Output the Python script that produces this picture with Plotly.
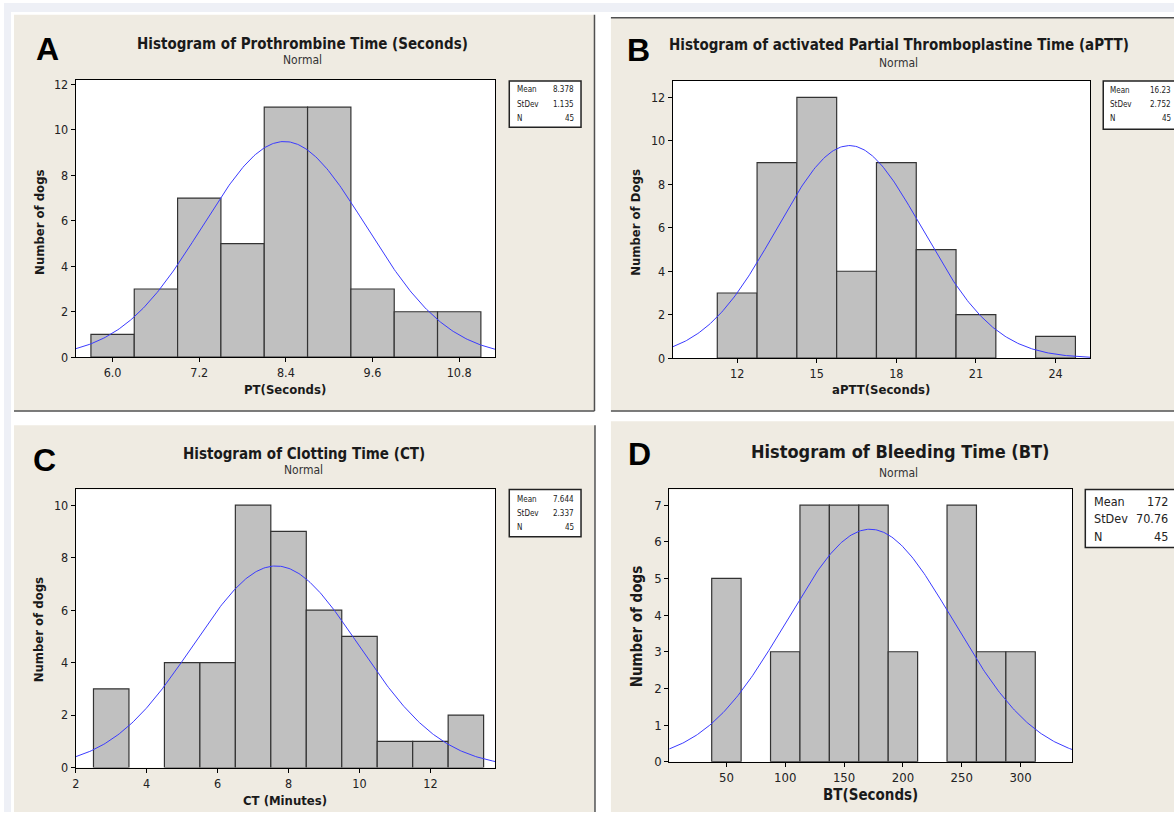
import numpy as np
import plotly.graph_objects as go

W, H = 1174, 820
FONT = "DejaVu Sans Condensed, Liberation Sans, Arial, sans-serif"
LETTER_FONT = "Liberation Sans, Arial, sans-serif"

# ---------------- data ----------------
pt_centers = [6.0, 6.6, 7.2, 7.8, 8.4, 9.0, 9.6, 10.2, 10.8]
pt_counts = [1, 3, 7, 5, 11, 11, 3, 2, 2]
pt_stats = {"mean": 8.378, "stdev": 1.135, "n": 45}
pt_stat_text = ["8.378", "1.135", "45"]
pt_xticks = [6.0, 7.2, 8.4, 9.6, 10.8]
pt_xticklabels = ["6.0", "7.2", "8.4", "9.6", "10.8"]

aptt_centers = [12, 13.5, 15, 16.5, 18, 19.5, 21, 22.5, 24]
aptt_counts = [3, 9, 12, 4, 9, 5, 2, 0, 1]
aptt_stats = {"mean": 16.23, "stdev": 2.752, "n": 45}
aptt_stat_text = ["16.23", "2.752", "45"]
aptt_xticks = [12, 15, 18, 21, 24]
aptt_xticklabels = ["12", "15", "18", "21", "24"]

ct_centers = [3, 4, 5, 6, 7, 8, 9, 10, 11, 12, 13]
ct_counts = [3, 0, 4, 4, 10, 9, 6, 5, 1, 1, 2]
ct_stats = {"mean": 7.644, "stdev": 2.337, "n": 45}
ct_stat_text = ["7.644", "2.337", "45"]
ct_xticks = [2, 4, 6, 8, 10, 12]
ct_xticklabels = ["2", "4", "6", "8", "10", "12"]

bt_centers = [50, 75, 100, 125, 150, 175, 200, 225, 250, 275, 300]
bt_counts = [5, 0, 3, 7, 7, 7, 3, 0, 7, 3, 3]
bt_stats = {"mean": 172, "stdev": 70.76, "n": 45}
bt_stat_text = ["172", "70.76", "45"]
bt_xticks = [50, 100, 150, 200, 250, 300]
bt_xticklabels = ["50", "100", "150", "200", "250", "300"]

stat_labels = ["Mean", "StDev", "N"]


def px(x):
    return x / W


def py(y):
    return 1 - y / H


panels = [
    dict(letter="A", title="Histogram of Prothrombine Time (Seconds)",
         xtitle="PT(Seconds)", ytitle="Number of dogs",
         centers=pt_centers, counts=pt_counts, binw=0.6, stats=pt_stats, stat_text=pt_stat_text,
         xticks=pt_xticks, xticklabels=pt_xticklabels, yticks=list(range(0, 13, 2)),
         xrange=[5.49, 11.3], yrange=[0, 12.2],
         plot=(72, 493, 78, 359), box=(507, 579, 79, 126), rows=[88, 103, 117], box_lx=513, box_rx=574,
         title_xy=(300, 42), sub_xy=(300, 58), letter_xy=(44, 47),
         xt_xy=(282, 392), yt_xy=(35, 222),
         tsize=15, subsize=12, ticksize=12.5, axsize=13, statsize=8),
    dict(letter="B", title="Histogram of activated Partial Thromboplastine Time (aPTT)",
         xtitle="aPTT(Seconds)", ytitle="Number of Dogs",
         centers=aptt_centers, counts=aptt_counts, binw=1.5, stats=aptt_stats, stat_text=aptt_stat_text,
         xticks=aptt_xticks, xticklabels=aptt_xticklabels, yticks=list(range(0, 13, 2)),
         xrange=[9.57, 25.31], yrange=[0, 12.76],
         plot=(671, 1090, 79, 360), box=(1103, 1180, 79, 128), rows=[89, 103, 117], box_lx=1108, box_rx=1173,
         title_xy=(898, 43), sub_xy=(898, 61), letter_xy=(637, 48),
         xt_xy=(880, 392), yt_xy=(633, 222),
         tsize=15, subsize=12, ticksize=12.5, axsize=13, statsize=8),
    dict(letter="C", title="Histogram of Clotting Time (CT)",
         xtitle="CT (Minutes)", ytitle="Number of dogs",
         centers=ct_centers, counts=ct_counts, binw=1.0, stats=ct_stats, stat_text=ct_stat_text,
         xticks=ct_xticks, xticklabels=ct_xticklabels, yticks=list(range(0, 11, 2)),
         xrange=[2.0, 13.83], yrange=[0, 10.6],
         plot=(72, 493, 493, 775), box=(507, 579, 493, 541), rows=[503, 517, 532], box_lx=513, box_rx=574,
         title_xy=(301, 457), sub_xy=(301, 473), letter_xy=(41, 463),
         xt_xy=(282, 808), yt_xy=(35, 635),
         tsize=15, subsize=12, ticksize=12.5, axsize=13, statsize=8),
    dict(letter="D", title="Histogram of Bleeding Time (BT)",
         xtitle="BT(Seconds)", ytitle="Number of dogs",
         centers=bt_centers, counts=bt_counts, binw=25, stats=bt_stats, stat_text=bt_stat_text,
         xticks=bt_xticks, xticklabels=bt_xticklabels, yticks=list(range(0, 8, 1)),
         xrange=[1.4, 344], yrange=[0, 7.43],
         plot=(667.5, 1072, 493, 769), box=(1085, 1180, 493, 552), rows=[505, 523, 541], box_lx=1092, box_rx=1170,
         title_xy=(899, 455), sub_xy=(898, 476), letter_xy=(638, 457),
         xt_xy=(869, 803), yt_xy=(635, 632),
         tsize=18, subsize=12, ticksize=13, axsize=15, statsize=12.5),
]

fig = go.Figure()
shapes = []
annotations = []

BG_OUT = "#eef0f6"
BEIGE = "#efebe2"
EDGE = "#505050"

# outer background strips
shapes.append(dict(type="rect", xref="paper", yref="paper", x0=0, x1=1, y0=py(9), y1=1,
                   fillcolor=BG_OUT, line=dict(width=0), layer="below"))
shapes.append(dict(type="rect", xref="paper", yref="paper", x0=0, x1=px(7), y0=0, y1=1,
                   fillcolor=BG_OUT, line=dict(width=0), layer="below"))
# beige panels
for (x0, x1, y0, y1) in [(10, 592, 12, 413), (609, 1174, 15, 413), (10, 592, 428, 820), (609, 1174, 424, 820)]:
    shapes.append(dict(type="rect", xref="paper", yref="paper", x0=px(x0), x1=px(x1), y0=py(y1), y1=py(y0),
                       fillcolor=BEIGE, line=dict(width=0), layer="below"))
# panel edge lines
edge_lines = [
    (592.5, 12, 592.5, 413.5), (10, 413.5, 592.5, 413.5),
    (609, 15, 1174, 15), (609, 413.5, 1174, 413.5),
    (593, 428, 593, 820),
]
for (x0, y0, x1, y1) in edge_lines:
    shapes.append(dict(type="line", xref="paper", yref="paper", x0=px(x0), y0=py(y0), x1=px(x1), y1=py(y1),
                       line=dict(color=EDGE, width=1.5), layer="below"))

layout_axes = {}
for i, p in enumerate(panels):
    idx = "" if i == 0 else str(i + 1)
    xa, ya = "x" + idx, "y" + idx
    l, r, t, b = p["plot"]
    # white plot area
    shapes.append(dict(type="rect", xref="paper", yref="paper", x0=px(l), x1=px(r), y0=py(b), y1=py(t),
                       fillcolor="white", line=dict(width=0), layer="below"))
    cs = [c for c, n in zip(p["centers"], p["counts"]) if n > 0]
    ns = [n for n in p["counts"] if n > 0]
    fig.add_trace(go.Bar(x=cs, y=ns, width=p["binw"], xaxis=xa, yaxis=ya,
                         marker=dict(color="#c0c0c0", line=dict(color="#333333", width=1.2)),
                         showlegend=False, hoverinfo="x+y"))
    s = p["stats"]
    xx = np.linspace(p["xrange"][0], p["xrange"][1], 300)
    yy = s["n"] * p["binw"] / (s["stdev"] * np.sqrt(2 * np.pi)) * np.exp(-0.5 * ((xx - s["mean"]) / s["stdev"]) ** 2)
    fig.add_trace(go.Scatter(x=xx, y=yy, mode="lines", xaxis=xa, yaxis=ya,
                             line=dict(color="#3a3aff", width=1), showlegend=False, hoverinfo="skip"))
    axis_common = dict(showline=True, mirror=True, linecolor="black", linewidth=1, ticks="outside",
                       ticklen=4, tickcolor="black", showgrid=False, zeroline=False,
                       tickfont=dict(family=FONT, size=p["ticksize"], color="#222"))
    layout_axes["xaxis" + idx] = dict(domain=[px(l), px(r)], anchor=ya, range=p["xrange"],
                                      tickmode="array", tickvals=p["xticks"], ticktext=p["xticklabels"],
                                      **axis_common)
    layout_axes["yaxis" + idx] = dict(domain=[py(b), py(t)], anchor=xa, range=p["yrange"],
                                      tickmode="array", tickvals=p["yticks"],
                                      ticktext=[str(v) for v in p["yticks"]], **axis_common)

    def ann(text, x, y, size, xanchor="center", angle=0, family=FONT, color="#1a1a1a"):
        annotations.append(dict(text=text, x=px(x), y=py(y), xref="paper", yref="paper", showarrow=False,
                                xanchor=xanchor, yanchor="middle", textangle=angle,
                                font=dict(family=family, size=size, color=color)))

    ann("<b>" + p["title"] + "</b>", *p["title_xy"], p["tsize"])
    ann("Normal", *p["sub_xy"], p["subsize"], color="#333")
    ann("<b>" + p["letter"] + "</b>", *p["letter_xy"], 32, family=LETTER_FONT, color="black")
    ann("<b>" + p["xtitle"] + "</b>", *p["xt_xy"], p["axsize"])
    ann("<b>" + p["ytitle"] + "</b>", *p["yt_xy"], p["axsize"], angle=-90)

    bx0, bx1, by0, by1 = p["box"]
    shapes.append(dict(type="rect", xref="paper", yref="paper", x0=px(bx0), x1=px(bx1), y0=py(by1), y1=py(by0),
                       fillcolor="white", line=dict(color="#222", width=1.5)))
    for lab, val, ry in zip(stat_labels, p["stat_text"], p["rows"]):
        ann(lab, p["box_lx"], ry, p["statsize"], xanchor="left", color="#222")
        ann(val, p["box_rx"], ry, p["statsize"], xanchor="right", color="#222")

fig.update_layout(width=W, height=H, margin=dict(l=0, r=0, t=0, b=0),
                  paper_bgcolor="white", plot_bgcolor="white",
                  shapes=shapes, annotations=annotations, barmode="overlay",
                  **layout_axes)

fig.write_html("out.html", config={"displayModeBar": False},
               post_script="document.body.style.margin='0px';document.body.style.overflow='hidden';")
